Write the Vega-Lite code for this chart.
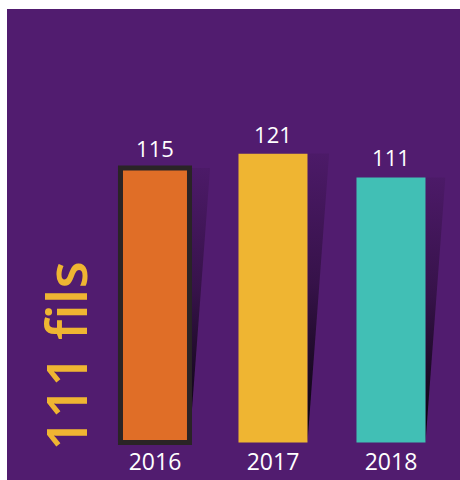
{
  "$schema": "https://vega.github.io/schema/vega-lite/v6.json",
  "width": 453,
  "height": 471,
  "autosize": {"type": "none"},
  "padding": {"left": 7, "top": 9, "right": 0, "bottom": 0},
  "background": "white",
  "config": {"view": {"fill": "#511C6F", "stroke": null}},
  "datasets": {
    "bars": [
      {"year": 2016, "value": 115},
      {"year": 2017, "value": 121},
      {"year": 2018, "value": 111}
    ],
    "title": [{"label": "111 fils"}]
  },
  "layer": [
    {
      "data": {"name": "bars"},
      "mark": {"type": "point", "shape": "M 0 0 L 0 -1 L 0.075 -1 Z", "filled": true, "opacity": 1, "strokeWidth": 0, "xOffset": 34.5,
        "fill": {"gradient": "linear", "x1": 0, "y1": 0, "x2": 0, "y2": 1, "stops": [{"offset": 0, "color": "#4C1A68"}, {"offset": 0.45, "color": "#361249"}, {"offset": 1, "color": "#060308"}]}},
      "encoding": {
        "x": {"field": "year", "type": "quantitative", "scale": {"domain": [2014.7458, 2018.585], "nice": false, "zero": false, "padding": 0}, "axis": null},
        "y": {"datum": 0, "type": "quantitative", "scale": {"domain": [-15.75, 181.6], "nice": false, "zero": false}, "axis": null},
        "size": {"field": "value", "type": "quantitative", "scale": {"type": "pow", "exponent": 2, "domain": [0, 121], "range": [0, 333680], "zero": true}, "legend": null}
      }
    },
    {
      "data": {"name": "bars"},
      "mark": {"type": "bar", "width": 69, "stroke": "#2A2426"},
      "encoding": {
        "x": {"field": "year", "type": "quantitative"},
        "y": {"field": "value", "type": "quantitative"},
        "color": {"field": "year", "type": "nominal", "scale": {"domain": [2016, 2017, 2018], "range": ["#E06E27", "#EFB532", "#41BFB5"]}, "legend": null},
        "strokeWidth": {"condition": {"test": "datum.year === 2016", "value": 5}, "value": 0}
      }
    },
    {
      "data": {"name": "bars"},
      "mark": {"type": "text", "font": "Open Sans", "fontSize": 22, "fontWeight": 500, "color": "white", "baseline": "alphabetic", "align": "center", "dy": -11},
      "encoding": {
        "x": {"field": "year", "type": "quantitative"},
        "y": {"field": "value", "type": "quantitative"},
        "text": {"field": "value", "type": "quantitative"}
      }
    },
    {
      "data": {"name": "bars"},
      "mark": {"type": "text", "font": "Open Sans", "fontSize": 23, "fontWeight": 500, "color": "white", "baseline": "alphabetic", "align": "center", "dy": 27.5},
      "encoding": {
        "x": {"field": "year", "type": "quantitative"},
        "y": {"datum": 0, "type": "quantitative"},
        "text": {"field": "year", "type": "nominal"}
      }
    },
    {
      "data": {"name": "title"},
      "mark": {"type": "text", "font": "Open Sans", "fontSize": 56, "fontWeight": 600, "fill": "#EFB532", "baseline": "alphabetic", "align": "center", "angle": 270},
      "encoding": {
        "x": {"datum": 2015.421, "type": "quantitative"},
        "y": {"datum": 36.2, "type": "quantitative"},
        "text": {"field": "label", "type": "nominal"}
      }
    }
  ]
}
